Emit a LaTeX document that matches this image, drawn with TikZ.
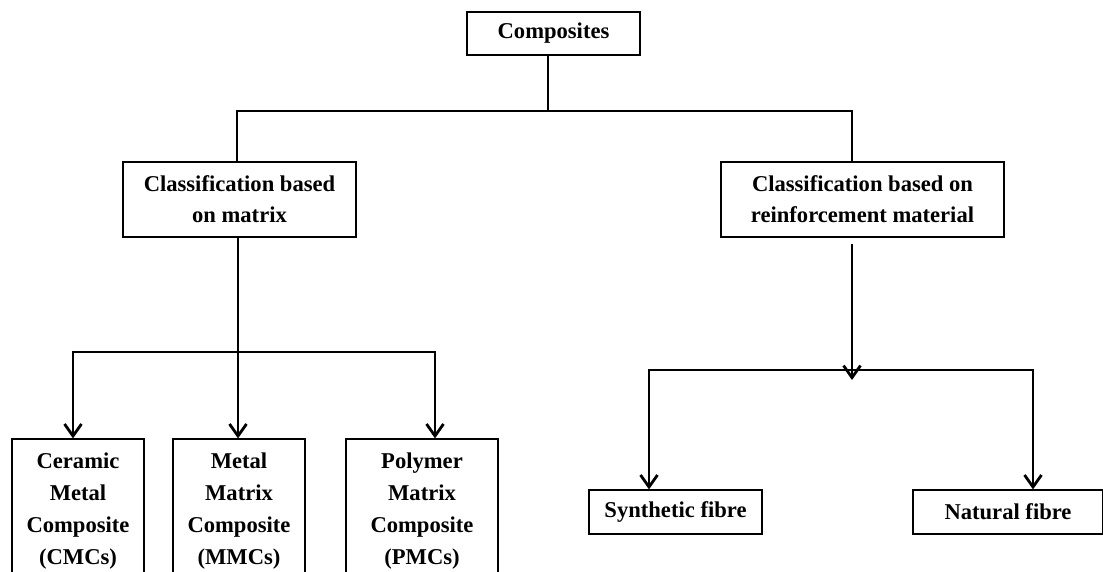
\documentclass[tikz,border=0pt]{standalone}
\usepackage{fontspec}
\setmainfont{Liberation Serif}
\usepackage{tikz}
\usetikzlibrary{arrows.meta}
\tikzstyle{boite} = [draw,line width=0.6pt,inner sep=0pt,align=center,font=\bfseries\fontsize{11.3}{15.5}\selectfont]
\tikzstyle{haute} = [boite,minimum height=72pt,font=\bfseries\fontsize{11.3}{16}\selectfont]
\tikzstyle{ligne} = [line width=1.4pt,line join=miter]
\tikzstyle{fleche} = [->,>={Straight Barb[length=6pt,width=8.5pt,line width=1.4pt]},line width=1.4pt,line join=miter]

\begin{document}
\begin{tikzpicture}[x=0.5pt,y=-0.5pt]
	\useasboundingbox (0,0) rectangle (1103,572);
	\clip (0,0) rectangle (1103,572);

	\node[boite,minimum width=86.5pt,minimum height=21.5pt] (comp) at (553.5,33.5) {Composites};

	\node[boite,minimum width=116.5pt,minimum height=37.5pt] (mat) at (239.5,199.5) {Classification based\\on matrix};
	\node[boite,minimum width=141.5pt,minimum height=37.5pt] (renf) at (862.5,199.5) {Classification based on\\reinforcement material};

	\node[haute,minimum width=66pt] (cmc) at (78,511) {Ceramic\\Metal\\Composite\\(CMCs)};
	\node[haute,minimum width=66pt] (mmc) at (239,511) {Metal\\Matrix\\Composite\\(MMCs)};
	\node[haute,minimum width=76pt] (pmc) at (422,511) {Polymer\\Matrix\\Composite\\(PMCs)};

	\node[boite,minimum width=86.5pt,minimum height=22pt] (syn) at (675.5,512) {Synthetic fibre};
	\node[boite,minimum width=95pt,minimum height=22pt] (nat) at (1008,512) {Natural fibre};

	% top branch
	\coordinate (h0) at (548,111);
	\coordinate (hl) at (237,111);
	\coordinate (hr) at (852,111);
	\draw[ligne] (comp.south -| h0) -- (h0);
	\draw[ligne] (mat.north -| hl) -- (hl) -- (hr) -- (renf.north -| hr);

	% matrix branch
	\coordinate (m1) at (73,352);
	\coordinate (m2) at (238,352);
	\coordinate (m3) at (435,352);
	\draw[ligne] (mat.south -| m2) -- (m2);
	\draw[fleche] (m2) -- (m1) -- (cmc.north -| m1);
	\draw[fleche] (m2) -- (mmc.north -| m2);
	\draw[fleche] (m2) -- (m3) -- (pmc.north -| m3);

	% reinforcement branch
	\coordinate (r0) at (852,370);
	\coordinate (r1) at (649,370);
	\coordinate (r2) at (1033,370);
	\draw[fleche] ([yshift=-3pt]renf.south -| r0) -- ([yshift=-5pt]r0);
	\draw[fleche] (r0) -- (r1) -- (syn.north -| r1);
	\draw[fleche] (r0) -- (r2) -- (nat.north -| r2);

\end{tikzpicture}
\end{document}
